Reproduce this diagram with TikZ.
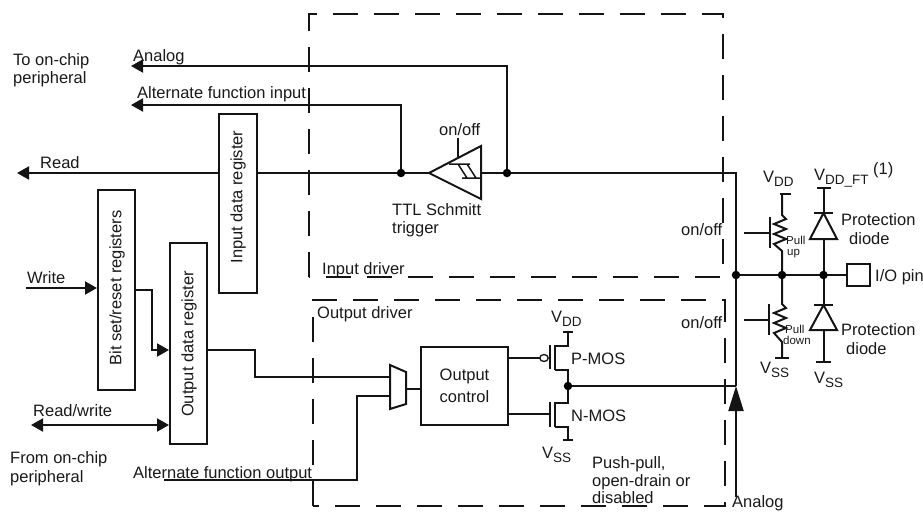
\documentclass[tikz,border=0pt]{standalone}
\usepackage{fontspec}
\setmainfont{Liberation Sans}
\usetikzlibrary{arrows.meta,calc}
\newcommand{\lowsub}[1]{\raisebox{-4pt}{\fontsize{13.5}{13.5}\selectfont #1}}
\tikzset{
 x=1pt,y=-1pt,
 wire/.style={line width=2pt,draw=black!92,line join=miter},
 thin wire/.style={line width=1.5pt,draw=black!92},
 tip/.style={-{Triangle[length=12pt,width=13pt]}},
 bigtip/.style={-{Triangle[length=25pt,width=15pt]}},
 twotip/.style={{Triangle[length=12pt,width=13pt]}-{Triangle[length=12pt,width=13pt]}},
 regbox/.style={draw=black!92,line width=2pt,inner sep=0pt,fill=white},
 vtext/.style={rotate=90,font=\fontsize{16.5}{16.5}\selectfont,inner sep=0pt,text=black!90},
 lbl/.style={anchor=west,inner sep=0pt,yshift=-1.5pt,font=\fontsize{16.5}{16.5}\selectfont,text height=12pt,text depth=3pt,text=black!90},
 small/.style={anchor=west,inner sep=0pt,font=\fontsize{11.5}{11.5}\selectfont,text height=8pt,text depth=2pt,text=black!90},
 driver/.style={line width=2pt,draw=black!92,dash pattern=on 25pt off 16pt},
 dot/.style={circle,fill=black,inner sep=0pt,minimum size=8.5pt},
}
\begin{document}
\begin{tikzpicture}
\useasboundingbox (0,0) rectangle (923,511);
% driver frames
\draw[driver] (309,277) -- (309,14) -- (723,14) -- (723,277) -- cycle;
\draw[driver] (313,506) -- (313,300) -- (725,300) -- (725,506) -- cycle;
% junctions and free ends
\coordinate (readend) at (17,173);
\coordinate (jalt) at (401,173);
\coordinate (janalog) at (507,173);
\coordinate (corner) at (736,173);
\coordinate (jbus) at (736,275);
\coordinate (jpull) at (782,275);
\coordinate (jdiode) at (823.5,275);
\coordinate (jout) at (568,386);
\coordinate (analogin) at (736,386);
\coordinate (analogend) at (736,497);
\coordinate (analogtip) at (131,66);
\coordinate (alttip) at (131,105);
\coordinate (writestart) at (26,288);
\coordinate (rwstart) at (31,425);
\coordinate (altoutstart) at (164,480);
% boxes
\node[regbox,minimum width=38pt,minimum height=179pt] (inreg) at (238,203.5) {};
\node[vtext] at (238,197) {Input data register};
\node[regbox,minimum width=37pt,minimum height=200pt] (bitreg) at (116.5,290) {};
\node[vtext] at (117,288) {Bit set/reset registers};
\node[regbox,minimum width=37pt,minimum height=201pt] (outreg) at (188.5,343.5) {};
\node[vtext] at (189,344) {Output data register};
\node[regbox,minimum width=87pt,minimum height=78pt,align=center,font=\fontsize{16.5}{22}\selectfont,text=black!90] (ctrl) at (464.5,386) {Output\\control};
% Schmitt trigger
\coordinate (tapex) at (429,173);
\coordinate (tright) at (481,173);
\draw[wire] (tapex) -- (481,146) -- (481,199) -- cycle;
\draw[wire] (458,138) -- (458,157);
\draw[thin wire] (449,164) -- (470,164) (458,164) -- (467,178) (467,164) -- (476,178) (462,178) -- (481,178);
% wires
\draw[wire,tip] (inreg.west |- readend) -- (readend);
\draw[wire] (inreg.east |- readend) -- (tapex);
\draw[wire] (tright) -- (corner) -- (jbus) -- (analogin);
\draw[wire,tip] (jalt) |- (alttip);
\draw[wire,tip] (janalog) |- (analogtip);
\draw[wire,tip] (writestart) -- (bitreg.west |- writestart);
\draw[wire,tip] (bitreg.east |- 0,290) -- (152,290) -- (152,350) -- (outreg.west |- 0,350);
\draw[wire,twotip] (rwstart) -- (outreg.west |- rwstart);
% mux
\coordinate (muxa) at (390,377);
\coordinate (muxb) at (390,396);
\draw[wire] (390,365) -- (406,372) -- (406,404) -- (390,409) -- cycle;
\draw[wire] (outreg.east |- 0,350) -- (255,350) -- (255,377) -- (muxa);
\draw[wire] (altoutstart) -- (357,480) -- (357,396) -- (muxb);
\draw[wire] (406,389) -- (ctrl.west |- 0,389);
% P-MOS
\draw[wire] (ctrl.east |- 0,358) -- (540,358);
\draw[line width=1.3pt,draw=black!92] (544,358) ellipse (4.2pt and 3.5pt);
\draw[wire] (550,345) -- (550,369);
\draw[wire] (554.5,345) -- (554.5,370);
\draw[wire] (563,332) -- (573,332);
\draw[wire] (554.5,346) -- (568,346) -- (568,332);
\draw[wire] (554.5,370) -- (568,370) -- (568,403) -- (554.5,403);
% N-MOS
\draw[wire] (ctrl.east |- 0,414) -- (550,414);
\draw[wire] (550,402) -- (550,427);
\draw[wire] (554.5,402) -- (554.5,427);
\draw[wire] (554.5,427) -- (568,427) -- (568,440);
\draw[wire] (563,440) -- (573,440);
% output to pad
\draw[wire] (jout) -- (analogin);
\draw[wire,bigtip] (analogend) -- (analogin);
% bus to pin
\node[regbox,minimum width=23pt,minimum height=22pt] (pin) at (858.5,275) {};
\draw[wire] (jbus) -- (pin.west);
% pull up
\draw[wire] (780,194) -- (791,194);
\draw[wire] (782,194) -- (782,215) -- (786,219) -- (774,224) -- (786,229) -- (774,234) -- (786,239) -- (774,244) -- (782,251) -- (jpull);
\draw[wire] (770,217) -- (770,248);
\draw[wire] (744,233) -- (770,233);
% pull down
\draw[wire] (jpull) -- (782,304) -- (786,308) -- (774,313) -- (786,318) -- (774,323) -- (786,328) -- (774,333) -- (782,342) -- (782,358);
\draw[wire] (775,358) -- (789,358);
\draw[wire] (769,304) -- (769,335);
\draw[wire] (744,320) -- (769,320);
% diodes
\draw[wire] (817,188) -- (831,188);
\draw[wire] (823.5,188) -- (823.5,213);
\draw[wire] (814,212.5) -- (833,212.5);
\draw[wire] (823.5,213) -- (837,239) -- (810,239) -- cycle;
\draw[wire] (823.5,239) -- (jdiode) -- (823.5,305);
\draw[wire] (814,305) -- (833,305);
\draw[wire] (823.5,305) -- (837,330) -- (810,330) -- cycle;
\draw[wire] (823.5,330) -- (823.5,362);
\draw[wire] (816,362) -- (831,362);
% junction dots
\foreach \p in {jalt,janalog,jbus,jpull,jdiode,jout} \node[dot] at (\p) {};
% labels
\node[lbl] at (133,55) {Analog};
\node[lbl] at (13,60) {To on-chip};
\node[lbl] at (13,78) {peripheral};
\node[lbl] at (137,92) {Alternate function input};
\node[lbl] at (40,162) {Read};
\node[lbl] at (439,129) {on/off};
\node[lbl] at (392,209) {TTL Schmitt};
\node[lbl] at (392,227) {trigger};
\node[lbl] at (322,268) {Input driver};
\node[lbl] at (317,312) {Output driver};
\node[lbl] at (27,277) {Write};
\node[lbl] at (33,410) {Read/write};
\node[lbl] at (10,457) {From on-chip};
\node[lbl] at (10,476) {peripheral};
\node[lbl] at (133,472) {Alternate function output};
\node[lbl] at (551,316) {V\lowsub{DD}};
\node[lbl] at (571,358) {P-MOS};
\node[lbl] at (571,415) {N-MOS};
\node[lbl] at (542,452) {V\lowsub{SS}};
\node[lbl] at (592,462) {Push-pull,};
\node[lbl] at (592,480) {open-drain or};
\node[lbl] at (592,497) {disabled};
\node[lbl] at (732,501.5) {Analog};
\node[lbl] at (681,229) {on/off};
\node[lbl] at (681,322) {on/off};
\node[lbl] at (763,176) {V\lowsub{DD}};
\node[lbl] at (814,174) {V\lowsub{DD\_FT}};
\node[lbl] at (873,168) {(1)};
\node[lbl] at (841,219) {Protection};
\node[lbl] at (849,238) {diode};
\node[lbl] at (875,275) {I/O pin};
\node[lbl] at (841,329) {Protection};
\node[lbl] at (846,348) {diode};
\node[lbl] at (760,367) {V\lowsub{SS}};
\node[lbl] at (814,377) {V\lowsub{SS}};
\node[small] at (786,241) {Pull};
\node[small] at (787,252) {up};
\node[small] at (785,330) {Pull};
\node[small] at (783,341) {down};
\end{tikzpicture}
\end{document}
